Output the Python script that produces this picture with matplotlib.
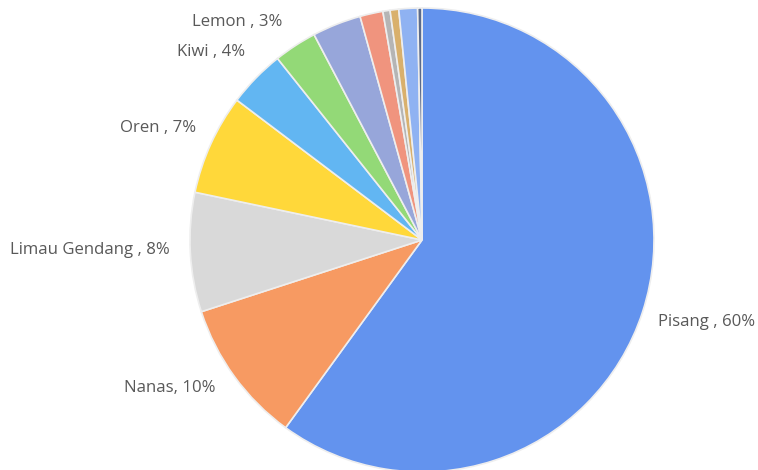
import matplotlib
matplotlib.use('Agg')
import matplotlib.pyplot as plt


# slice values in percent, clockwise from 12 o'clock
fruits = ['Pisang', 'Nanas', 'Limau Gendang', 'Oren', 'Kiwi', 'Lemon',
          '', '', '', '', '', '']
shares = [60, 10, 8.3, 7, 4, 3, 3.4, 1.6, 0.5, 0.6, 1.3, 0.3]
labels = ['Pisang , 60%', 'Nanas, 10%', 'Limau Gendang , 8%', 'Oren , 7%',
          'Kiwi , 4%', 'Lemon , 3%']
colors = ['#6393ee', '#f79a62', '#d9d9d9', '#ffd83a', '#62b6f2', '#93d977',
          '#97a6da', '#f0947e', '#b5b5b5', '#d9b06c', '#8fb2f2', '#5a6a8a']

# label anchor points in figure pixels (x, y from top, alignment)
label_pos = [(658, 322, 'left'), (216, 388, 'right'), (170, 250, 'right'),
             (196, 128, 'right'), (245, 52, 'right'), (282, 22, 'right')]

W, H = 758, 470
fig = plt.figure(figsize=(W / 100, H / 100), dpi=100)
ax = fig.add_axes([0, 0, 1, 1])

wedges, _ = ax.pie(shares, colors=colors, startangle=90, counterclock=False,
                   center=(422, H - 240), radius=232, frame=True,
                   wedgeprops=dict(edgecolor='#eeeeee', linewidth=1.2))
ax.set_xlim(0, W)
ax.set_ylim(0, H)
ax.set_aspect('auto')
ax.axis('off')

for txt, (x, y, ha) in zip(labels, label_pos):
    ax.text(x, H - y, txt, ha=ha, va='center', fontsize=12.1,
            family='Open Sans', color='#595959')

fig.savefig('out.png', dpi=100)
